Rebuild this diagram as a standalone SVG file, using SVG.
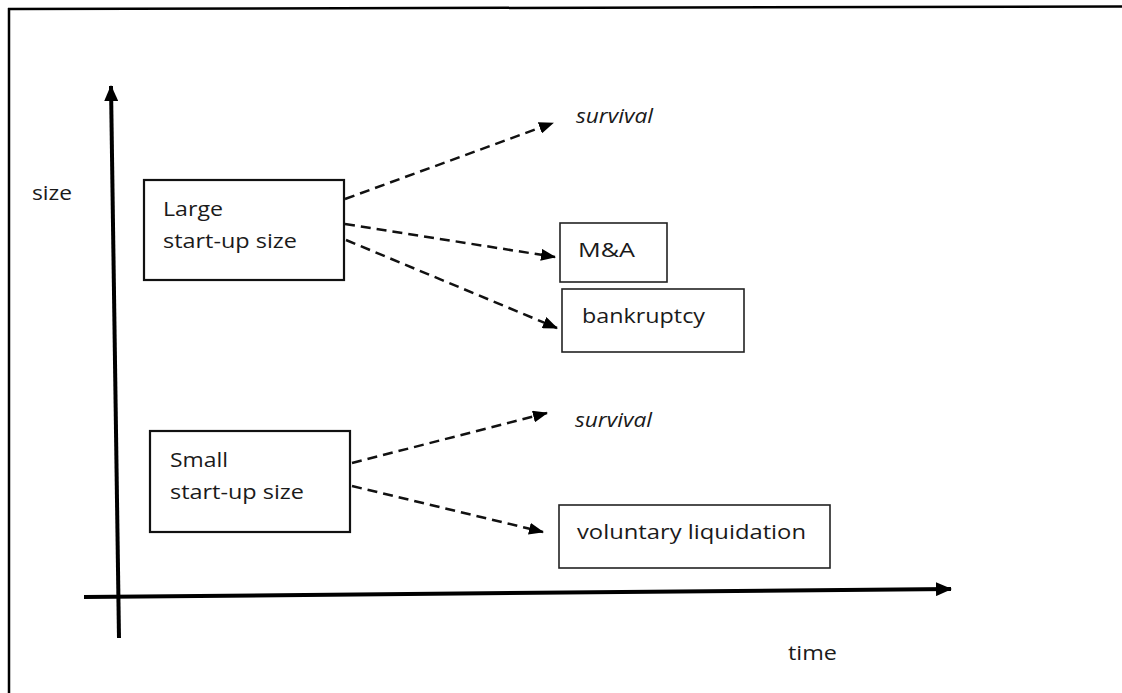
<svg xmlns="http://www.w3.org/2000/svg" width="1122" height="693" viewBox="0 0 1122 693">
  <defs>
    <marker id="ah" viewBox="0 0 15 12" refX="14" refY="6" markerWidth="15" markerHeight="12" markerUnits="userSpaceOnUse" orient="auto">
      <path d="M0,0 L15,6 L0,12 z" fill="#000"/>
    </marker>
    <marker id="axh" viewBox="0 0 16 14" refX="15" refY="7" markerWidth="16" markerHeight="14" markerUnits="userSpaceOnUse" orient="auto">
      <path d="M0,0 L16,7 L0,14 z" fill="#000"/>
    </marker>
    <style>
      text { font-family: "Open Sans", "Liberation Sans", sans-serif; font-size: 20px; fill: #1a1a1a; }
      .it { font-style: italic; }
      .box { fill: #fff; stroke: #222; stroke-width: 1.6; }
      .box2 { fill: #fff; stroke: #111; stroke-width: 2.2; }
      .dash { fill: none; stroke: #111; stroke-width: 2.5; stroke-dasharray: 10 6; marker-end: url(#ah); }
      .axis { fill: none; stroke: #000; stroke-width: 4; marker-end: url(#axh); }
      .frame { fill: none; stroke: #000; stroke-width: 2.5; }
    </style>
  </defs>

  <rect x="0" y="0" width="1122" height="693" fill="#fff"/>

  <g id="frame">
    <line class="frame" x1="8" y1="9" x2="1122" y2="6.5"/>
    <line class="frame" x1="9" y1="8" x2="9" y2="693"/>
  </g>

  <g id="axes">
    <line class="axis" x1="119" y1="638" x2="111" y2="86"/>
    <line class="axis" x1="84" y1="597" x2="951" y2="589"/>
    <text x="32" y="200" textLength="40" lengthAdjust="spacingAndGlyphs">size</text>
    <text x="788" y="660" textLength="49" lengthAdjust="spacingAndGlyphs">time</text>
  </g>

  <g id="large">
    <rect class="box2" x="144" y="180" width="200" height="100"/>
    <text x="163" y="216" textLength="60" lengthAdjust="spacingAndGlyphs">Large</text>
    <text x="163" y="248" textLength="134" lengthAdjust="spacingAndGlyphs">start-up size</text>
  </g>

  <g id="small">
    <rect class="box2" x="150" y="431" width="200" height="101"/>
    <text x="170" y="467" textLength="58" lengthAdjust="spacingAndGlyphs">Small</text>
    <text x="170" y="499" textLength="134" lengthAdjust="spacingAndGlyphs">start-up size</text>
  </g>

  <g id="survival-large">
    <text class="it" x="576" y="123" textLength="77" lengthAdjust="spacingAndGlyphs">survival</text>
  </g>

  <g id="ma">
    <rect class="box" x="560" y="223" width="107" height="59"/>
    <text x="578" y="257" textLength="57" lengthAdjust="spacingAndGlyphs">M&amp;A</text>
  </g>

  <g id="bankruptcy">
    <rect class="box" x="562" y="289" width="182" height="63"/>
    <text x="582" y="323" textLength="123" lengthAdjust="spacingAndGlyphs">bankruptcy</text>
  </g>

  <g id="survival-small">
    <text class="it" x="575" y="427" textLength="77" lengthAdjust="spacingAndGlyphs">survival</text>
  </g>

  <g id="voluntary">
    <rect class="box" x="559" y="505" width="271" height="63"/>
    <text x="577" y="539" textLength="229" lengthAdjust="spacingAndGlyphs">voluntary liquidation</text>
  </g>

  <g id="connectors">
    <line class="dash" x1="345" y1="199" x2="553" y2="123"/>
    <line class="dash" x1="345" y1="224" x2="555" y2="257"/>
    <line class="dash" x1="346" y1="240" x2="557" y2="328"/>
    <line class="dash" x1="352" y1="463" x2="547" y2="413"/>
    <line class="dash" x1="352" y1="486" x2="543" y2="532"/>
  </g>
</svg>
